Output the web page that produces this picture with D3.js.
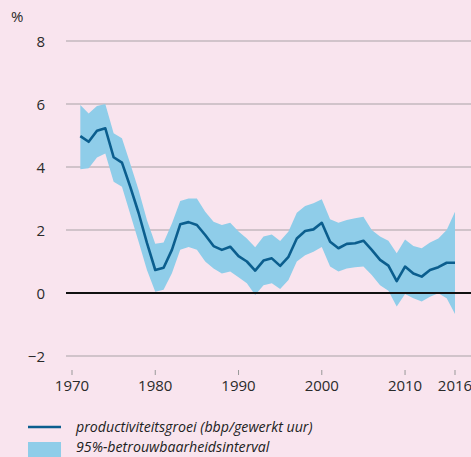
<!DOCTYPE html>
<html>
<head>
<meta charset="utf-8">
<script src="https://cdn.jsdelivr.net/npm/d3@7"></script>
<style>
  body { margin: 0; background: #f9e4ee; }
  svg { display: block; font-family: "Open Sans", sans-serif; }
</style>
</head>
<body>
<svg id="chart"></svg>
<script>
// productiviteitsgroei with 95% band
const years = d3.range(1971, 2017);
const growth = [4.98, 4.8, 5.15, 5.23, 4.31, 4.14, 3.37, 2.54, 1.59, 0.73,
  0.8, 1.37, 2.18, 2.25, 2.16, 1.84, 1.49, 1.37, 1.47, 1.17,
  1.0, 0.71, 1.03, 1.1, 0.86, 1.15, 1.73, 1.97, 2.02, 2.23,
  1.63, 1.42, 1.56, 1.58, 1.66, 1.37, 1.05, 0.87, 0.38, 0.84,
  0.62, 0.52, 0.73, 0.82, 0.96, 0.96];
const upper = [5.97, 5.7, 5.94, 6.0, 5.07, 4.91, 4.1, 3.27, 2.32, 1.56,
  1.6, 2.21, 2.92, 3.0, 3.0, 2.58, 2.26, 2.16, 2.23, 1.95,
  1.73, 1.45, 1.79, 1.86, 1.65, 1.95, 2.55, 2.76, 2.85, 2.98,
  2.34, 2.23, 2.32, 2.37, 2.42, 2.0, 1.79, 1.66, 1.26, 1.7,
  1.49, 1.42, 1.6, 1.73, 2.0, 2.58];
const lower = [3.93, 3.96, 4.3, 4.43, 3.53, 3.37, 2.5, 1.63, 0.73, 0.04,
  0.1, 0.63, 1.37, 1.46, 1.37, 1.0, 0.78, 0.62, 0.68, 0.5,
  0.31, -0.06, 0.25, 0.31, 0.13, 0.41, 1.0, 1.2, 1.31, 1.46,
  0.84, 0.68, 0.78, 0.82, 0.84, 0.57, 0.25, 0.07, -0.43, -0.03,
  -0.17, -0.27, -0.12, -0.01, -0.17, -0.67];
const yTicks = [-2, 0, 2, 4, 6, 8];
const xTicks = [1970, 1980, 1990, 2000, 2010, 2016];

const width = 471, height = 457;
const svg = d3.select("#chart").attr("width", width).attr("height", height);

svg.append("rect").attr("width", width).attr("height", height).attr("fill", "#f9e4ee");

const x = d3.scaleLinear().domain([1970, 2016]).range([72, 455]);
const y = d3.scaleLinear().domain([-2, 8]).range([356, 41]);

// gridlines + y labels
svg.selectAll(".grid")
  .data(yTicks.filter(d => d !== 0))
  .enter().append("line")
  .attr("x1", 66).attr("x2", 471)
  .attr("y1", d => y(d)).attr("y2", d => y(d))
  .attr("stroke", "#a9a1a5").attr("stroke-width", 1.2);

svg.selectAll(".ylab")
  .data(yTicks)
  .enter().append("text")
  .attr("x", 45).attr("y", d => y(d) + 5.5)
  .attr("text-anchor", "end")
  .attr("font-size", 15).attr("fill", "#2a2a2a")
  .text(d => d < 0 ? "\u2212" + Math.abs(d) : d);

svg.append("text").attr("x", 11).attr("y", 22)
  .attr("font-size", 15).attr("fill", "#2a2a2a").text("%");

const data = years.map((yr, i) => ({ yr, v: growth[i], hi: upper[i], lo: lower[i] }));

// confidence band
svg.append("path").datum(data)
  .attr("fill", "#8fcde9")
  .attr("d", d3.area().x(d => x(d.yr)).y0(d => y(d.lo)).y1(d => y(d.hi)));

// zero line
svg.append("line").attr("x1", 66).attr("x2", 471)
  .attr("y1", y(0)).attr("y2", y(0))
  .attr("stroke", "#111").attr("stroke-width", 2);

// growth line
svg.append("path").datum(data)
  .attr("fill", "none").attr("stroke", "#0b5e8e").attr("stroke-width", 2.6)
  .attr("stroke-linejoin", "round")
  .attr("d", d3.line().x(d => x(d.yr)).y(d => y(d.v)));

// x axis ticks
svg.selectAll(".xtick")
  .data(xTicks)
  .enter().append("line")
  .attr("x1", d => x(d)).attr("x2", d => x(d))
  .attr("y1", 370).attr("y2", 375)
  .attr("stroke", "#999").attr("stroke-width", 1);

svg.selectAll(".xlab")
  .data(xTicks)
  .enter().append("text")
  .attr("x", d => x(d)).attr("y", 391)
  .attr("text-anchor", "middle")
  .attr("font-size", 15).attr("fill", "#2a2a2a")
  .text(d => d);

// legend
svg.append("line").attr("x1", 28).attr("x2", 61).attr("y1", 427).attr("y2", 427)
  .attr("stroke", "#0b5e8e").attr("stroke-width", 2.6);
svg.append("text").attr("x", 76).attr("y", 432)
  .attr("font-size", 14.2).attr("font-style", "italic").attr("fill", "#222")
  .text("productiviteitsgroei (bbp/gewerkt uur)");
svg.append("rect").attr("x", 28).attr("y", 442).attr("width", 33).attr("height", 15)
  .attr("fill", "#8fcde9");
svg.append("text").attr("x", 76).attr("y", 452)
  .attr("font-size", 14.2).attr("font-style", "italic").attr("fill", "#222")
  .text("95%-betrouwbaarheidsinterval");
</script>
</body>
</html>
